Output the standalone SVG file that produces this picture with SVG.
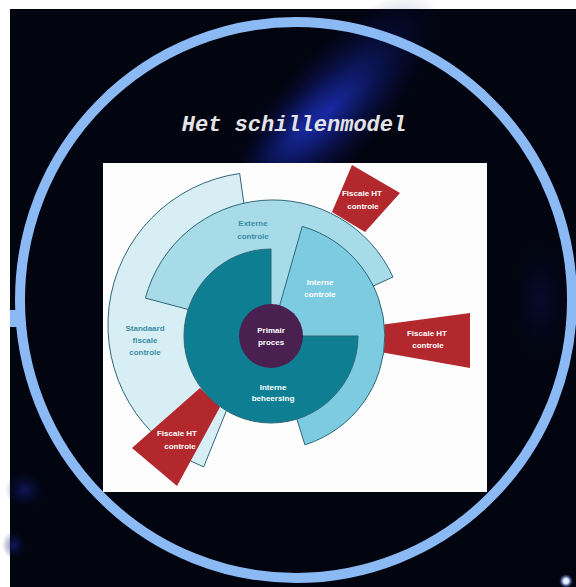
<svg xmlns="http://www.w3.org/2000/svg" width="576" height="587" viewBox="0 0 576 587">
<defs>
<radialGradient id="beam" cx="0.5" cy="0.5" r="0.5">
<stop offset="0" stop-color="#2238d8" stop-opacity="0.75"/>
<stop offset="0.45" stop-color="#1628a8" stop-opacity="0.4"/>
<stop offset="1" stop-color="#0a1060" stop-opacity="0"/>
</radialGradient>
<radialGradient id="glow" cx="0.5" cy="0.5" r="0.5">
<stop offset="0" stop-color="#18248a" stop-opacity="0.6"/>
<stop offset="1" stop-color="#0a1050" stop-opacity="0"/>
</radialGradient>
<radialGradient id="dot" cx="0.5" cy="0.5" r="0.5">
<stop offset="0" stop-color="#ffffff"/>
<stop offset="0.4" stop-color="#cfe0ff"/>
<stop offset="1" stop-color="#3050c0" stop-opacity="0"/>
</radialGradient>
<style>
.shell{stroke:#2f6778;stroke-width:1}
.red{fill:#b3282d}
.lbl{font-family:"Liberation Sans",Arial,sans-serif;font-weight:bold;font-size:8px;text-anchor:middle}
.w{fill:#ffffff}
.t{fill:#3a8ea4}
</style>
</defs>
<rect x="0" y="0" width="576" height="587" fill="#ffffff"/>
<rect x="10" y="9" width="566" height="578" fill="#02040f"/>
<ellipse cx="330" cy="110" rx="55" ry="150" fill="url(#beam)" transform="rotate(42 330 110)"/>
<ellipse cx="300" cy="130" rx="35" ry="80" fill="url(#beam)" opacity="0.6" transform="rotate(42 300 130)"/>
<ellipse cx="25" cy="490" rx="20" ry="18" fill="url(#glow)"/>
<ellipse cx="14" cy="545" rx="12" ry="14" fill="url(#glow)"/>
<ellipse cx="540" cy="300" rx="30" ry="60" fill="url(#glow)" opacity="0.4"/>
<circle cx="566" cy="581" r="7" fill="url(#dot)"/>
<g id="ring">
<ellipse cx="296" cy="300" rx="276" ry="278" fill="none" stroke="#8ab9f3" stroke-width="10"/>
<rect x="10" y="310" width="10" height="17" fill="#8ab9f3"/>
</g>
<g id="title">
<text x="294" y="131" font-family="Liberation Mono,DejaVu Sans Mono,monospace" font-weight="bold" font-style="italic" font-size="22" fill="#e4e4e8" text-anchor="middle">Het schillenmodel</text>
</g>
<rect id="panel" x="103" y="163" width="384" height="329" fill="#fdfdfd"/>
<g id="standaard-fiscale-controle">
<path class="shell" d="M261 325 L203.7 466.9 A153 153 0 0 1 239.7 173.5 Z" fill="#d7eef5"/>
<text class="lbl t" x="145" y="331">Standaard</text>
<text class="lbl t" x="145" y="343">fiscale</text>
<text class="lbl t" x="145" y="355">controle</text>
</g>
<g id="fiscale-ht-controle-linksonder">
<path class="red" d="M200 388 L220 407 L177 486 L132 448 Z"/>
<text class="lbl w" x="177" y="436">Fiscale HT</text>
<text class="lbl w" x="180" y="449">controle</text>
</g>
<g id="fiscale-ht-controle-rechtsboven">
<path class="red" d="M352 165 L400 193 L365 232 L332 212 Z"/>
<text class="lbl w" x="362" y="196">Fiscale HT</text>
<text class="lbl w" x="363" y="209">controle</text>
</g>
<g id="externe-controle">
<path class="shell" d="M273 332 L145.4 298.1 A132 132 0 0 1 393 277 Z" fill="#a8dbe8"/>
<text class="lbl t" x="253" y="226">Externe</text>
<text class="lbl t" x="253" y="239">controle</text>
</g>
<g id="fiscale-ht-controle-rechts">
<path class="red" d="M380 325 L470 313 L470 368 L380 352 Z"/>
<text class="lbl w" x="427" y="336">Fiscale HT</text>
<text class="lbl w" x="428" y="348">controle</text>
</g>
<g id="interne-controle">
<path class="shell" d="M271 336 L302.2 226.4 A114 114 0 0 1 304.9 444.8 Z" fill="#7dcbe0"/>
<text class="lbl w" x="320" y="285">Interne</text>
<text class="lbl w" x="320" y="297">controle</text>
</g>
<g id="interne-beheersing">
<path class="shell" d="M271 336 L358 336 A87 87 0 1 1 271 249 Z" fill="#0e7f93"/>
<text class="lbl w" x="273" y="390">Interne</text>
<text class="lbl w" x="273" y="401">beheersing</text>
</g>
<g id="primair-proces">
<circle cx="271" cy="336" r="32" fill="#4a2050"/>
<text class="lbl w" x="271" y="333">Primair</text>
<text class="lbl w" x="271" y="345">proces</text>
</g>
<g id="connectors"/>
</svg>
